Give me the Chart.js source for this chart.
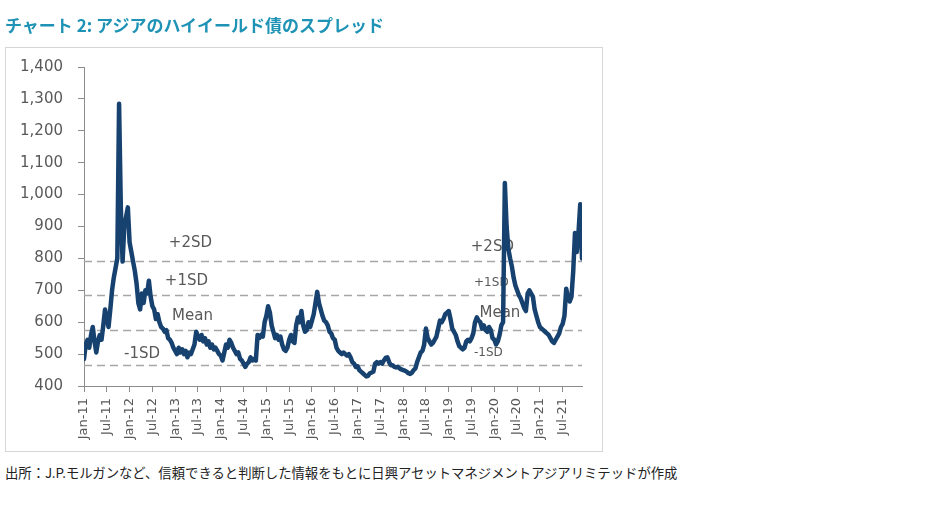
<!DOCTYPE html>
<html><head><meta charset="utf-8">
<script src="https://cdn.jsdelivr.net/npm/chart.js@4.4.1/dist/chart.umd.min.js"></script>
<style>
html,body{margin:0;padding:0;background:#fff;width:936px;height:505px;overflow:hidden;}
#title{position:absolute;left:5px;top:12px;font-family:"Noto Sans CJK JP";font-weight:bold;font-size:17px;color:#1E93B5;white-space:nowrap;line-height:26px;z-index:2;}
#frame{position:absolute;left:5px;top:47px;width:598px;height:405px;border:1px solid #d6d6d6;box-sizing:border-box;}
#wrap{position:absolute;left:0;top:0;width:600px;height:452px;}
#src{position:absolute;left:5px;top:463px;font-family:"Noto Sans CJK JP";font-size:13.35px;color:#222;white-space:nowrap;line-height:20px;}
</style></head>
<body>
<div id="title">チャート 2: アジアのハイイールド債のスプレッド</div>
<div id="frame"></div>
<div id="wrap"><canvas id="c"></canvas></div>
<div id="src">出所：J.P.モルガンなど、信頼できると判断した情報をもとに日興アセットマネジメントアジアリミテッドが作成</div>
<script>
// Biweekly spread observations (bp), Jan 2011 – Dec 2021
const spread2011 = [485,530,545,520,560,585,540,505,540,560,545,590,640, 610,585,640,700,740,770,800,1285,960,790,900,930,960];
const spread2012 = [850,820,790,760,720,660,640,690,660,700,690,730,680, 650,640,610,625,600,585,580,570,575,550,545,535,520];
const spread2013 = [510,500,520,505,515,500,510,490,505,500,515,530,570, 555,545,560,540,550,530,540,520,530,515,520,510,500];
const spread2014 = [495,480,505,530,520,545,535,520,510,500,505,485,480, 470,460,470,475,490,480,485,480,560,550,560,555,600];
const spread2015 = [620,650,630,590,570,550,560,545,555,530,515,510,520, 545,560,540,535,590,615,600,635,590,570,575,600,585];
const spread2016 = [605,625,660,695,660,640,620,605,600,590,570,565,550, 545,520,510,505,500,505,500,495,500,490,475,470,460];
const spread2017 = [462,450,445,440,435,430,432,440,442,445,470,475,470, 475,470,480,488,490,475,465,465,460,458,460,455,452];
const spread2018 = [450,448,445,440,438,442,450,455,475,490,505,510,530, 580,550,540,530,535,545,555,580,605,600,610,625,630];
const spread2019 = [635,610,580,570,560,540,525,520,515,520,540,545,540, 550,565,600,615,605,600,580,590,575,570,585,575,550];
const spread2020 = [545,530,540,560,590,600,1036,900,830,800,775,740,715, 700,685,675,660,645,635,690,700,690,680,640,620,600];
const spread2021 = [585,580,575,570,565,560,550,540,535,545,555,565,585, 595,620,705,675,665,680,760,880,820,880,970,800];

const tickLabels = ['Jan-11','Jul-11','Jan-12','Jul-12','Jan-13','Jul-13','Jan-14','Jul-14','Jan-15','Jul-15','Jan-16','Jul-16','Jan-17','Jul-17','Jan-18','Jul-18','Jan-19','Jul-19','Jan-20','Jul-20','Jan-21','Jul-21'];
const refLevels = [793, 684, 575, 466];
const refNames  = ['+2SD','+1SD','Mean','-1SD'];

const values = [].concat(spread2011,spread2012,spread2013,spread2014,spread2015,spread2016,spread2017,spread2018,spread2019,spread2020,spread2021);
const PER_HALF = 13; // biweekly points per half year
const points = values.map((v,i)=>({x:i,y:v}));

// label placement (data coordinates: x = biweek index, y = bp) and font size
const labelPlacement = [
  {name:'+2SD', x:60.7, y:848, size:15},
  {name:'+1SD', x:58.4, y:729, size:15},
  {name:'Mean', x:61.9, y:619, size:15},
  {name:'-1SD', x:33.1, y:500, size:15},
  {name:'+2SD', x:232.9, y:834, size:15},
  {name:'+1SD', x:232.3, y:724, size:12},
  {name:'Mean', x:237.2, y:629, size:15},
  {name:'-1SD', x:230.6, y:503, size:12}
];

const refPlugin = {
  id:'refLines',
  beforeDatasetsDraw(chart){
    const {ctx, chartArea:a, scales:{x,y}} = chart;
    ctx.save();
    ctx.strokeStyle = '#a6a6a6';
    ctx.lineWidth = 1.5;
    ctx.setLineDash([8,5]);
    refLevels.forEach(v=>{
      const py = Math.round(y.getPixelForValue(v))+0.5;
      ctx.beginPath(); ctx.moveTo(a.left, py); ctx.lineTo(a.right, py); ctx.stroke();
    });
    ctx.setLineDash([]);
    ctx.fillStyle = '#595959';
    ctx.textAlign = 'center';
    ctx.textBaseline = 'middle';
    labelPlacement.forEach(l=>{
      ctx.font = l.size + 'px "DejaVu Sans"';
      ctx.fillText(l.name, x.getPixelForValue(l.x), y.getPixelForValue(l.y));
    });
    ctx.restore();
  }
};

new Chart(document.getElementById('c'), {
  type:'line',
  data:{datasets:[{
    data: points,
    borderColor:'#17426F',
    borderWidth:4.5,
    pointRadius:0,
    tension:0,
    borderJoinStyle:'round',
    borderCapStyle:'round'
  }]},
  options:{
    responsive:true,
    maintainAspectRatio:false,
    animation:false,
    layout:{padding:{top:67,left:0,right:18,bottom:0}},
    plugins:{legend:{display:false},tooltip:{enabled:false}},
    scales:{
      x:{
        type:'linear',
        min:0, max:values.length-1,
        afterFit(s){ s.height = 66; },
        grid:{drawOnChartArea:false, drawTicks:true, tickLength:6, color:'#8c8c8c'},
        border:{display:true, color:'#8c8c8c', width:1},
        ticks:{
          stepSize:PER_HALF, includeBounds:false, autoSkip:false,
          maxRotation:90, minRotation:90, padding:6,
          color:'#595959', font:{family:'DejaVu Sans', size:13},
          callback:(v)=> tickLabels[Math.round(v/PER_HALF)] ?? null
        }
      },
      y:{
        min:400, max:1400,
        afterFit(s){ s.width = 84; },
        grid:{drawOnChartArea:false, drawTicks:true, tickLength:6, color:'#8c8c8c'},
        border:{display:true, color:'#8c8c8c', width:1},
        ticks:{
          stepSize:50, padding:15,
          color:'#595959', font:{family:'DejaVu Sans', size:15},
          callback:(v)=> v % 100 === 0 ? v.toLocaleString('en-US') : ''
        }
      }
    }
  },
  plugins:[refPlugin]
});
</script>
</body></html>
